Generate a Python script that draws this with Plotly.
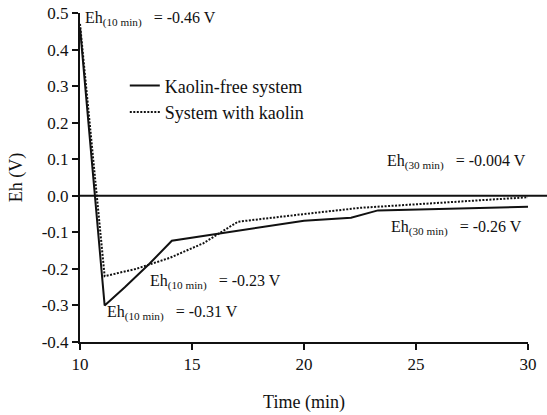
import plotly.graph_objects as go

# Data
time_free = [10, 11.1, 12.0, 13.1, 14.1, 16.0, 18.0, 20.0, 22.1, 23.3, 30]
eh_free = [0.46, -0.30, -0.25, -0.186, -0.123, -0.105, -0.085, -0.068, -0.06, -0.04, -0.03]

time_kaolin = [10, 11.1, 12.5, 14.0, 15.5, 17.05, 20.0, 22.5, 30]
eh_kaolin = [0.47, -0.22, -0.20, -0.17, -0.13, -0.071, -0.05, -0.033, -0.004]

y_ticks = [0.5, 0.4, 0.3, 0.2, 0.1, 0.0, -0.1, -0.2, -0.3, -0.4]
y_ticktext = ["0.5", "0.4", "0.3", "0.2", "0.1", "0.0", "-0.1", "-0.2", "-0.3", "-0.4"]
x_ticks = [10, 15, 20, 25, 30]

FONT = "Times New Roman, Liberation Serif, DejaVu Serif, serif"
NB = "\u00a0"

fig = go.Figure()
fig.add_trace(go.Scatter(x=time_free, y=eh_free, mode="lines", name="Kaolin-free system",
                         line=dict(color="#111111", width=2)))
fig.add_trace(go.Scatter(x=time_kaolin, y=eh_kaolin, mode="lines", name="System with kaolin",
                         line=dict(color="#111111", width=2, dash="2px,1.5px")))

# zero line
fig.add_shape(type="line", xref="paper", yref="y", x0=0, x1=1.05, y0=0, y1=0,
              line=dict(color="#111111", width=2))

def eh(sub, val):
    return f"Eh<sub>({sub})</sub>{NB}{NB} = {val} V"

ann = [
    (10.13, 0.484, eh("10 min", "-0.46")),
    (23.6, 0.093, eh("30 min", "-0.004")),
    (23.8, -0.087, eh("30 min", "-0.26")),
    (13.04, -0.235, eh("10 min", "-0.23")),
    (11.12, -0.322, eh("10 min", "-0.31")),
]
for x, y, t in ann:
    fig.add_annotation(x=x, y=y, xref="x", yref="y", text=t, showarrow=False,
                       xanchor="left", yanchor="middle",
                       font=dict(family=FONT, size=16, color="#111111"))

# y-axis title
fig.add_annotation(x=-0.141, y=0.5, xref="paper", yref="paper", text="Eh (V)",
                   textangle=-90, showarrow=False, xanchor="center", yanchor="middle",
                   font=dict(family=FONT, size=18, color="#111111"))

fig.update_layout(
    width=547, height=415,
    margin=dict(l=80, r=19, t=13, b=73),
    paper_bgcolor="white", plot_bgcolor="white",
    font=dict(family=FONT, size=15, color="#111111"),
    showlegend=True,
    legend=dict(x=0.10, y=0.835, xanchor="left", yanchor="top",
                bgcolor="rgba(0,0,0,0)", font=dict(family=FONT, size=18),
                itemwidth=30, tracegroupgap=0),
    xaxis=dict(range=[10, 30], tickvals=x_ticks, showline=True, linecolor="#111111",
               linewidth=2, ticks="outside", ticklen=6, tickwidth=2, tickcolor="#111111",
               showgrid=False, zeroline=False, tickfont=dict(family=FONT, size=17),
               automargin=False,
               title=dict(text="Time (min)", font=dict(family=FONT, size=18), standoff=22)),
    yaxis=dict(range=[-0.4, 0.5], tickvals=y_ticks, ticktext=y_ticktext, showline=True,
               linecolor="#111111", linewidth=2, ticks="outside", ticklen=6, tickwidth=2,
               tickcolor="#111111", showgrid=False, zeroline=False, automargin=False,
               tickfont=dict(family=FONT, size=17)),
)

fig.write_html("out.html")
